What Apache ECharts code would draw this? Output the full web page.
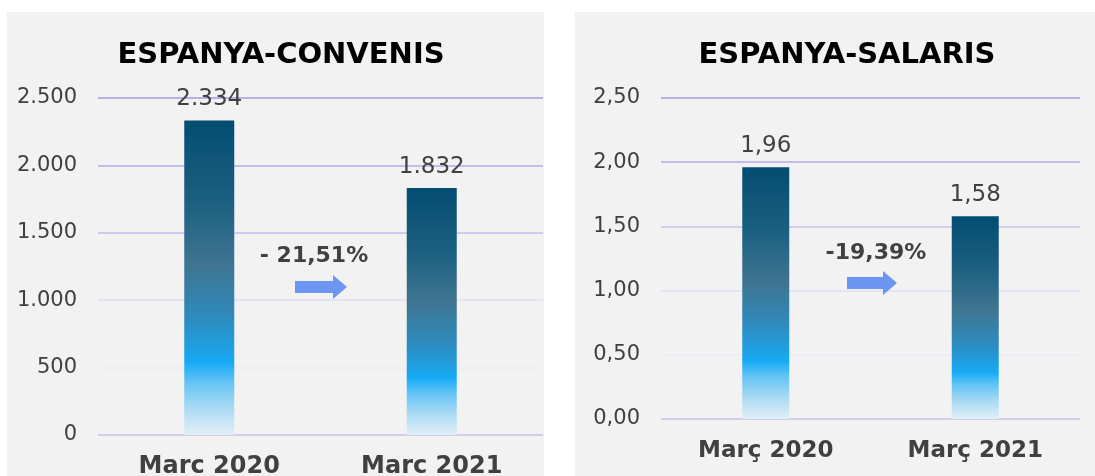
<!DOCTYPE html>
<html>
<head>
<meta charset="utf-8">
<script src="https://cdn.jsdelivr.net/npm/echarts@6/dist/echarts.min.js"></script>
<style>
  html, body { margin: 0; padding: 0; background: #fff; }
  #chart { width: 1095px; height: 476px; }
</style>
</head>
<body>
<div id="chart"></div>
<script>
  // dades
  var categoriesConvenis = ['Marc 2020', 'Marc 2021'];
  var valuesConvenis = [2334, 1832];
  var categoriesSalaris = ['Març 2020', 'Març 2021'];
  var valuesSalaris = [1.96, 1.58];
  var changeConvenis = '- 21,51%';
  var changeSalaris = '-19,39%';

  var FONT = 'DejaVu Sans';
  var TXT = '#404040';

  function milers(v) {
    return String(Math.round(v)).replace(/\B(?=(\d{3})+(?!\d))/g, '.');
  }
  function decimals(v) {
    return Number(v).toFixed(2).replace('.', ',');
  }

  var barColor = {
    type: 'linear', x: 0, y: 0, x2: 0, y2: 1,
    colorStops: [
      { offset: 0, color: '#034d72' },
      { offset: 0.25, color: '#1b5f80' },
      { offset: 0.46, color: '#3f7592' },
      { offset: 0.62, color: '#2f8abb' },
      { offset: 0.74, color: '#1ca3e8' },
      { offset: 0.77, color: '#16abf5' },
      { offset: 0.83, color: '#62c3f5' },
      { offset: 0.91, color: '#a6d9f3' },
      { offset: 1, color: '#e4eff7' }
    ]
  };

  // fletxa
  function arrow(x, y, w) {
    var bh = 6, hh = 12, hw = 14;
    return {
      type: 'polygon',
      shape: {
        points: [
          [x, y - bh], [x + w - hw, y - bh], [x + w - hw, y - hh],
          [x + w, y], [x + w - hw, y + hh], [x + w - hw, y + bh], [x, y + bh]
        ]
      },
      style: { fill: '#6d95f2' }
    };
  }

  var myChart = echarts.init(document.getElementById('chart'));
  myChart.setOption({
    backgroundColor: '#ffffff',
    animation: false,
    graphic: [
      { type: 'rect', z: -10, shape: { x: 7, y: 12, width: 537, height: 470 }, style: { fill: '#f2f2f2' } },
      { type: 'rect', z: -10, shape: { x: 575, y: 12, width: 525, height: 470 }, style: { fill: '#f2f2f2' } },
      {
        type: 'text', x: 314, y: 256, z: 10,
        style: { text: changeConvenis, font: 'bold 22px "DejaVu Sans"', fill: TXT, align: 'center', verticalAlign: 'middle' }
      },
      Object.assign(arrow(295, 287, 52), { z: 10 }),
      {
        type: 'text', x: 876, y: 253, z: 10,
        style: { text: changeSalaris, font: 'bold 22px "DejaVu Sans"', fill: TXT, align: 'center', verticalAlign: 'middle' }
      },
      Object.assign(arrow(847, 283, 50), { z: 10 })
    ],
    title: [{
      text: 'ESPANYA-CONVENIS',
      left: 276, top: 50, textAlign: 'center', textVerticalAlign: 'middle',
      textStyle: { fontFamily: FONT, fontSize: 29, fontWeight: 'bold', color: '#000' }
    }, {
      text: 'ESPANYA-SALARIS',
      left: 842, top: 50, textAlign: 'center', textVerticalAlign: 'middle',
      textStyle: { fontFamily: FONT, fontSize: 29, fontWeight: 'bold', color: '#000' }
    }],
    grid: [
      { left: 98, right: 552, top: 98, height: 337, outerBoundsMode: 'none' },
      { left: 661, right: 15, top: 98, height: 321, outerBoundsMode: 'none' }
    ],
    xAxis: [{
      type: 'category', gridIndex: 0, data: categoriesConvenis,
      axisLine: { show: false }, axisTick: { show: false },
      axisLabel: { margin: 20, fontFamily: FONT, fontSize: 24, fontWeight: 'bold', color: TXT }
    }, {
      type: 'category', gridIndex: 1, data: categoriesSalaris,
      axisLine: { show: false }, axisTick: { show: false },
      axisLabel: { margin: 21, fontFamily: FONT, fontSize: 23, fontWeight: 'bold', color: TXT }
    }],
    yAxis: [{
      type: 'value', gridIndex: 0, min: 0, max: 2500, interval: 500,
      axisLine: { show: false }, axisTick: { show: false },
      axisLabel: { margin: 21, fontFamily: FONT, fontSize: 21, color: TXT, formatter: milers },
      splitLine: { lineStyle: { width: 2, color: ['#d2cdf0', '#eeedf7', '#e4e2f5', '#cfcaf0', '#c2bcec', '#b7b0e7'] } }
    }, {
      type: 'value', gridIndex: 1, min: 0, max: 2.5, interval: 0.5,
      axisLine: { show: false }, axisTick: { show: false },
      axisLabel: { margin: 21, fontFamily: FONT, fontSize: 21, color: TXT, formatter: decimals },
      splitLine: { lineStyle: { width: 2, color: ['#d2cdf0', '#eeedf7', '#e4e2f5', '#d2cef0', '#c2bcec', '#b7b0e7'] } }
    }],
    series: [{
      type: 'bar', xAxisIndex: 0, yAxisIndex: 0,
      data: valuesConvenis, barWidth: 50,
      itemStyle: { color: barColor },
      label: {
        show: true, position: 'top', distance: 10,
        fontFamily: FONT, fontSize: 23, color: TXT,
        formatter: function (p) { return milers(p.value); }
      }
    }, {
      type: 'bar', xAxisIndex: 1, yAxisIndex: 1,
      data: valuesSalaris, barWidth: 47,
      itemStyle: { color: barColor },
      label: {
        show: true, position: 'top', distance: 10,
        fontFamily: FONT, fontSize: 23, color: TXT,
        formatter: function (p) { return decimals(p.value); }
      }
    }]
  });
</script>
</body>
</html>
